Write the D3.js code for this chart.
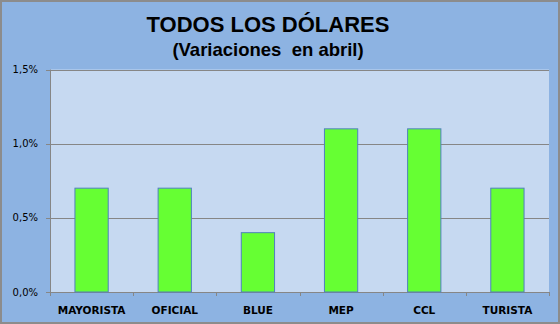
<!DOCTYPE html>
<html>
<head>
<meta charset="utf-8">
<script src="https://cdn.jsdelivr.net/npm/d3@7"></script>
<style>
	body { margin: 0; padding: 0; background: #fff; }
	svg { display: block; }
</style>
</head>
<body>
<div id="chart"></div>
<script>
var categories = ["MAYORISTA", "OFICIAL", "BLUE", "MEP", "CCL", "TURISTA"];
var variaciones = [0.7, 0.7, 0.4, 1.1, 1.1, 0.7];
var yTicks = [0, 0.5, 1.0, 1.5];
var titulo = "TODOS LOS DÓLARES";
var subtitulo = "(Variaciones  en abril)";

var dims = {
	width: 560,
	height: 324,
	margin: { top: 69.5, right: 11, bottom: 32, left: 50 }
};

var svg = d3.select("#chart")
	.append("svg")
		.attr("width", dims.width)
		.attr("height", dims.height);

// fondo del grafico
svg.append("rect")
	.attr("x", 1).attr("y", 1)
	.attr("width", dims.width - 2).attr("height", dims.height - 2)
	.attr("fill", "#8DB3E2")
	.attr("stroke", "#8c8c8c")
	.attr("stroke-width", 2);

var x = d3.scaleBand()
	.domain(categories)
	.range([dims.margin.left, dims.width - dims.margin.right])
	.paddingInner(0.6)
	.paddingOuter(0.3);

var y = d3.scaleLinear()
	.domain([0, 1.5])
	.range([dims.height - dims.margin.bottom, dims.margin.top]);

// area del grafico
svg.append("rect")
	.attr("x", dims.margin.left)
	.attr("y", y(1.5))
	.attr("width", dims.width - dims.margin.right - dims.margin.left)
	.attr("height", y(0) - y(1.5))
	.attr("fill", "#C6D9F1");

// lineas de division
svg.append("g")
	.selectAll("line")
	.data(yTicks)
	.enter().append("line")
		.attr("x1", dims.margin.left - 4)
		.attr("x2", dims.width - dims.margin.right)
		.attr("y1", function(d) { return Math.round(y(d)) + 0.5; })
		.attr("y2", function(d) { return Math.round(y(d)) + 0.5; })
		.attr("stroke", "#868686")
		.attr("stroke-width", 1);

// eje vertical
svg.append("line")
	.attr("x1", dims.margin.left + 0.5).attr("x2", dims.margin.left + 0.5)
	.attr("y1", y(1.5)).attr("y2", y(0))
	.attr("stroke", "#868686");

var fmt = function(d) { return d3.format(".1f")(d).replace(".", ",") + "%"; };

svg.append("g")
	.selectAll("text")
	.data(yTicks)
	.enter().append("text")
		.attr("x", 38)
		.attr("y", function(d) { return y(d); })
		.attr("dy", "0.35em")
		.attr("text-anchor", "end")
		.attr("font-family", "DejaVu Sans, Verdana, sans-serif")
		.attr("font-size", "10px")
		.attr("fill", "#000")
		.text(fmt);

// barras
svg.append("g")
	.selectAll("rect")
	.data(variaciones)
	.enter().append("rect")
		.attr("x", function(d, i) { return x(categories[i]); })
		.attr("y", function(d) { return y(d); })
		.attr("width", x.bandwidth())
		.attr("height", function(d) { return y(0) - y(d); })
		.attr("fill", "#66FF33")
		.attr("stroke", "#4F81BD")
		.attr("stroke-width", 1);

// marcas del eje horizontal
var step = (dims.width - dims.margin.right - dims.margin.left) / categories.length;
var tickPos = d3.range(categories.length + 1).map(function(i) { return dims.margin.left + i * step; });
svg.append("g")
	.selectAll("line")
	.data(tickPos)
	.enter().append("line")
		.attr("x1", function(d) { return Math.round(d) + 0.5; })
		.attr("x2", function(d) { return Math.round(d) + 0.5; })
		.attr("y1", y(0))
		.attr("y2", y(0) + 4)
		.attr("stroke", "#868686");

svg.append("g")
	.selectAll("text")
	.data(categories)
	.enter().append("text")
		.attr("x", function(d) { return x(d) + x.bandwidth() / 2; })
		.attr("y", 314)
		.attr("text-anchor", "middle")
		.attr("font-family", "DejaVu Sans, Verdana, sans-serif")
		.attr("font-weight", "bold")
		.attr("font-size", "10.5px")
		.attr("fill", "#000")
		.text(function(d) { return d; });

// titulos
svg.append("text")
	.attr("x", 268)
	.attr("y", 32)
	.attr("text-anchor", "middle")
	.attr("font-family", "Liberation Sans, Arial, sans-serif")
	.attr("font-weight", "bold")
	.attr("font-size", "22px")
	.text(titulo);

svg.append("text")
	.attr("x", 268)
	.attr("y", 56)
	.attr("text-anchor", "middle")
	.attr("font-family", "Liberation Sans, Arial, sans-serif")
	.attr("font-weight", "bold")
	.attr("font-size", "18.5px")
	.style("white-space", "pre")
	.text(subtitulo);
</script>
</body>
</html>
